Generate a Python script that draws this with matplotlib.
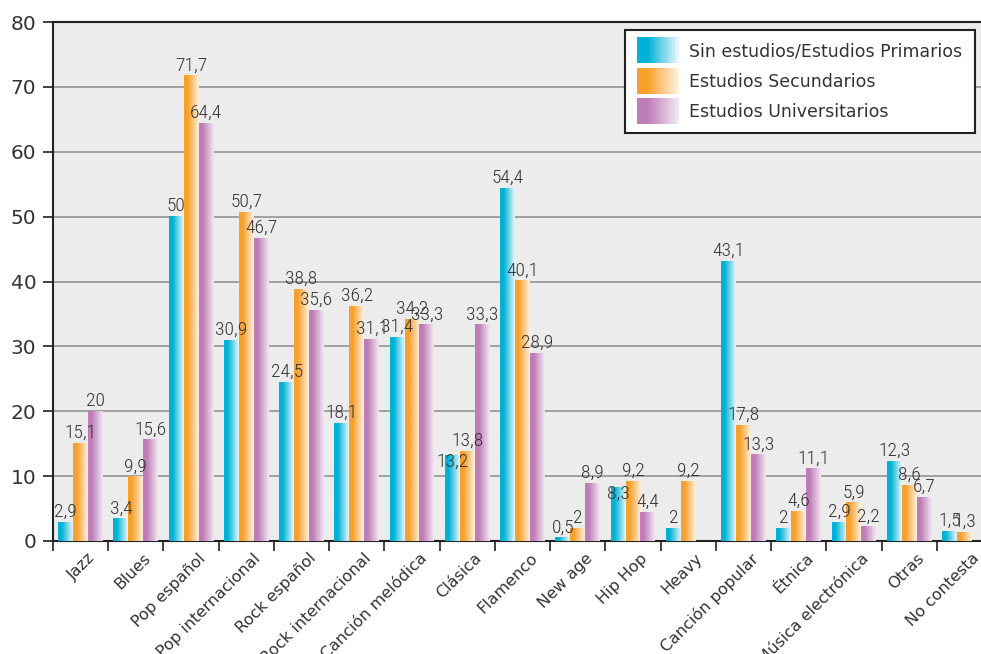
import numpy as np
import matplotlib
matplotlib.use("Agg")
import matplotlib.pyplot as plt
from matplotlib.patches import Rectangle
from matplotlib.legend_handler import HandlerBase
from matplotlib.colors import LinearSegmentedColormap
from matplotlib import font_manager
import matplotlib.transforms as mtransforms

categories = ["Jazz", "Blues", "Pop español", "Pop internacional", "Rock español",
              "Rock internacional", "Canción melódica", "Clásica", "Flamenco", "New age",
              "Hip Hop", "Heavy", "Canción popular", "Étnica", "Música electrónica",
              "Otras", "No contesta"]
sin_estudios = [2.9, 3.4, 50, 30.9, 24.5, 18.1, 31.4, 13.2, 54.4, 0.5, 8.3, 2, 43.1, 2, 2.9, 12.3, 1.5]
secundarios = [15.1, 9.9, 71.7, 50.7, 38.8, 36.2, 34.2, 13.8, 40.1, 2, 9.2, 9.2, 17.8, 4.6, 5.9, 8.6, 1.3]
universitarios = [20, 15.6, 64.4, 46.7, 35.6, 31.1, 33.3, 33.3, 28.9, 8.9, 4.4, None, 13.3, 11.1, 2.2, 6.7, None]
series_names = ["Sin estudios/Estudios Primarios", "Estudios Secundarios", "Estudios Universitarios"]
yticks = [0, 10, 20, 30, 40, 50, 60, 70, 80]

grad_colors = [("#00b2d6", "#e6f6fb"), ("#f8a02c", "#fff1de"), ("#bf7db8", "#f2e6f2")]
# labels drawn lower in the reference (series index, category index)
lowered = {(0, 7), (0, 10)}

# pick a condensed font for the value labels if one is available
names = {f.name for f in font_manager.fontManager.ttflist}
narrow_family = None
for cand in ["Liberation Sans Narrow", "Roboto Condensed", "Open Sans Condensed", "DejaVu Sans Condensed"]:
    if cand in names:
        narrow_family = cand
        break
value_font = dict(family=[narrow_family, "DejaVu Sans"] if narrow_family else ["DejaVu Sans"],
                  stretch="condensed", weight="light", size=14 if narrow_family else 10.5)

W, H = 981, 654
fig = plt.figure(figsize=(W / 100, H / 100), dpi=100)
fig.patch.set_facecolor("white")
left, right, top, bottom = 53, 992, 22, 541
ax = fig.add_axes([left / W, 1 - bottom / H, (right - left) / W, (bottom - top) / H])
ax.set_facecolor("#ececec")

n = len(categories)
x = np.arange(n)
bw = 0.27
offsets = [-bw, 0, bw]
data = [sin_estudios, secundarios, universitarios]

def make_cmap(c0, c1):
    return LinearSegmentedColormap.from_list("g", [(0, c0), (0.25, c0), (1, c1)])

grad = np.linspace(0, 1, 64).reshape(1, -1)

for si, (vals, off) in enumerate(zip(data, offsets)):
    cmap = make_cmap(*grad_colors[si])
    v = [0 if val is None else val for val in vals]
    bars = ax.bar(x + off, v, width=bw, color="none", edgecolor="none", zorder=3)
    for ci, (b, val) in enumerate(zip(bars, vals)):
        if val is None or val == 0:
            continue
        x0 = b.get_x()
        ax.imshow(grad, cmap=cmap, aspect="auto", extent=(x0, x0 + b.get_width(), 0, b.get_height()),
                  zorder=3, interpolation="bilinear")
        label = ("%g" % val).replace(".", ",")
        ypos = val + 0.2 - (2.6 if (si, ci) in lowered else 0)
        ax.text(b.get_x() + b.get_width() / 2, ypos, label, ha="center", va="bottom",
                color="#333333", zorder=4, fontproperties=font_manager.FontProperties(**value_font))

ax.set_xlim(-0.5, n - 0.5)
ax.set_ylim(0, 80)
ax.set_yticks(yticks)
ax.set_yticklabels([str(t) for t in yticks], fontsize=14.5, color="#333333", family="DejaVu Sans")
ax.yaxis.grid(True, color="#a0a0a0", linewidth=1.4, zorder=1)
ax.set_axisbelow(True)
ax.tick_params(axis="y", length=7, width=1.3, color="#333333", pad=5)

ax.set_xticks(np.arange(n + 1) - 0.5)
ax.set_xticklabels([])
ax.tick_params(axis="x", length=7, width=1.3, color="#333333")
ax.set_xticks(x, minor=True)
ax.set_xticklabels(categories, minor=True, rotation=45, ha="right", va="top", rotation_mode="anchor",
                   fontsize=11.5, color="#333333", family="DejaVu Sans")
ax.tick_params(axis="x", which="minor", length=0, pad=7)
shift = mtransforms.ScaledTranslation(7 / 100, 0, fig.dpi_scale_trans)
for lab in ax.get_xticklabels(minor=True):
    lab.set_transform(lab.get_transform() + shift)

for s in ["left", "bottom", "top"]:
    ax.spines[s].set_color("#222222")
    ax.spines[s].set_linewidth(1.5)
ax.spines["right"].set_visible(False)

class GradHandler(HandlerBase):
    def __init__(self, c0, c1):
        super().__init__()
        self.cmap = make_cmap(c0, c1)
    def create_artists(self, legend, orig_handle, xdescent, ydescent, width, height, fontsize, trans):
        arts = []
        k = 24
        for i in range(k):
            r = Rectangle((-xdescent + width * i / k, -ydescent - 5), width / k + 0.3, height + 10,
                          facecolor=self.cmap(i / (k - 1)), edgecolor="none", transform=trans)
            arts.append(r)
        return arts

handles = [Rectangle((0, 0), 1, 1) for _ in range(3)]
hmap = {h: GradHandler(*grad_colors[i]) for i, h in enumerate(handles)}
leg = ax.legend(handles, series_names, handler_map=hmap, loc="upper left",
                bbox_to_anchor=((625 - left) / (right - left), 1 - (30 - top) / (bottom - top)),
                frameon=True, fancybox=False, borderpad=0.7, labelspacing=0.72,
                handlelength=2.4, handletextpad=0.6, borderaxespad=0,
                prop={"family": "DejaVu Sans", "size": 12.5})
leg.get_frame().set_edgecolor("#222222")
leg.get_frame().set_linewidth(1.5)
leg.get_frame().set_facecolor("white")
leg.get_frame().set_alpha(1)
leg.set_zorder(10)
for t in leg.get_texts():
    t.set_color("#333333")

fig.savefig("out.png", dpi=100)
